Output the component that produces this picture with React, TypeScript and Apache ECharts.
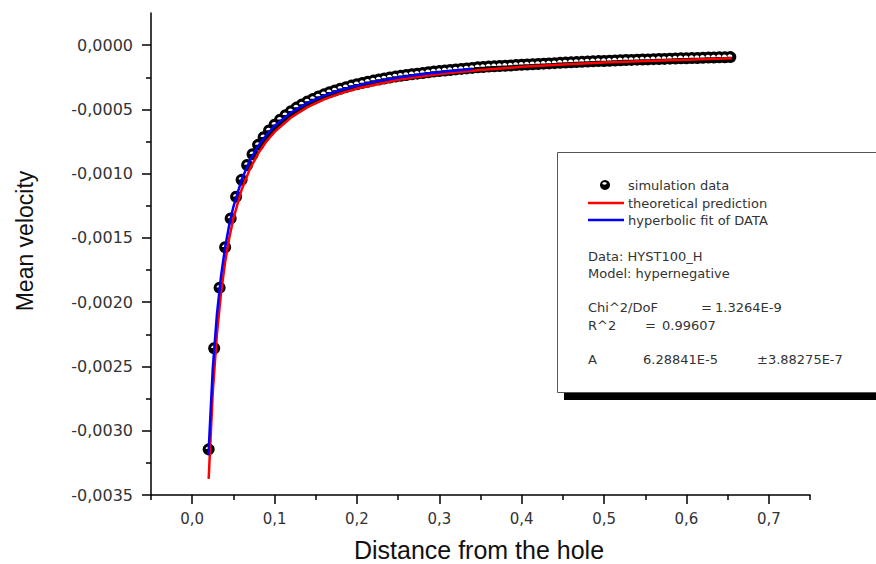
import React, { useEffect, useRef } from "react";
import * as echarts from "echarts";

// Simulation data (distance from the hole, mean velocity)
const simDistance = [
  0.02, 0.0267, 0.0333, 0.04, 0.0467, 0.0533, 0.06, 0.0667, 0.0733, 0.08,
  0.0867, 0.0933, 0.1, 0.1067, 0.1133, 0.12, 0.1267, 0.1333, 0.14, 0.1467,
  0.1533, 0.16, 0.1667, 0.1733, 0.18, 0.1867, 0.1933, 0.2, 0.2067, 0.2133,
  0.22, 0.2267, 0.2333, 0.24, 0.2467, 0.2533, 0.26, 0.2667, 0.2733, 0.28,
  0.2867, 0.2933, 0.3, 0.3067, 0.3133, 0.32, 0.3267, 0.3333, 0.34, 0.3467,
  0.3533, 0.36, 0.3667, 0.3733, 0.38, 0.3867, 0.3933, 0.4, 0.4067, 0.4133,
  0.42, 0.4267, 0.4333, 0.44, 0.4467, 0.4533, 0.46, 0.4667, 0.4733, 0.48,
  0.4867, 0.4933, 0.5, 0.5067, 0.5133, 0.52, 0.5267, 0.5333, 0.54, 0.5467,
  0.5533, 0.56, 0.5667, 0.5733, 0.58, 0.5867, 0.5933, 0.6, 0.6067, 0.6133,
  0.62, 0.6267, 0.6333, 0.64, 0.6467, 0.6533,
];
const simVelocity = [
  -0.003145, -0.002358, -0.001887, -0.001572, -0.001348, -0.001179, -0.001048, -0.000933, -0.000848, -0.000776,
  -0.000716, -0.000664, -0.000619, -0.00058, -0.000545, -0.000514, -0.000486, -0.000462, -0.000439, -0.000419,
  -0.0004, -0.000383, -0.000367, -0.000353, -0.000339, -0.000327, -0.000315, -0.000304, -0.000294, -0.000285,
  -0.000276, -0.000267, -0.00026, -0.000252, -0.000245, -0.000238, -0.000232, -0.000226, -0.000222, -0.000217,
  -0.000211, -0.000206, -0.000202, -0.000197, -0.000193, -0.000189, -0.000185, -0.000181, -0.000177, -0.000173,
  -0.00017, -0.000167, -0.000165, -0.000162, -0.00016, -0.000158, -0.000155, -0.000153, -0.000151, -0.000149,
  -0.000147, -0.000144, -0.000142, -0.00014, -0.000138, -0.000136, -0.000134, -0.000132, -0.00013, -0.000128,
  -0.000126, -0.000124, -0.000123, -0.000121, -0.00012, -0.000118, -0.000116, -0.000115, -0.000113, -0.000112,
  -0.000111, -0.000109, -0.000108, -0.000107, -0.000105, -0.000104, -0.000103, -0.000102, -0.000101, -0.0001,
  -0.000098, -0.000097, -0.000096, -0.000095, -0.000094, -0.000093,
];

// Hyperbolic fit of DATA
const fitDistance = [
  0.0197, 0.025, 0.03, 0.035, 0.04, 0.045, 0.05, 0.06, 0.07, 0.08, 0.09,
  0.1, 0.12, 0.14, 0.16, 0.18, 0.2, 0.22, 0.25, 0.28, 0.31, 0.34,
];
const fitVelocity = [
  -0.003192, -0.002515, -0.002096, -0.001797, -0.001572, -0.001397, -0.001258, -0.001048, -0.000898, -0.000786, -0.000699,
  -0.000629, -0.000524, -0.000449, -0.000393, -0.000349, -0.000314, -0.000286, -0.000252, -0.000225, -0.000203, -0.000185,
];

// Theoretical prediction
const theoryDistance = [
  0.02, 0.025, 0.03, 0.035, 0.04, 0.045, 0.05, 0.06, 0.07, 0.08, 0.09, 0.1, 0.12,
  0.14, 0.16, 0.18, 0.2, 0.25, 0.3, 0.35, 0.4, 0.45, 0.5, 0.55, 0.6, 0.655,
];
const theoryVelocity = [
  -0.003375, -0.0027, -0.00225, -0.001929, -0.001688, -0.0015, -0.00135, -0.001125, -0.000964, -0.000844, -0.00075, -0.000675, -0.000563,
  -0.000482, -0.000422, -0.000375, -0.000338, -0.00027, -0.000225, -0.000193, -0.000169, -0.00015, -0.000135, -0.000123, -0.000113, -0.000103,
];

const xMajorTicks = [0, 0.1, 0.2, 0.3, 0.4, 0.5, 0.6, 0.7];
const xMinorTicks = [-0.05, 0.05, 0.15, 0.25, 0.35, 0.45, 0.55, 0.65, 0.75];
const yMajorTicks = [-0.0035, -0.003, -0.0025, -0.002, -0.0015, -0.001, -0.0005, 0];
const yMinorTicks = [-0.00325, -0.00275, -0.00225, -0.00175, -0.00125, -0.00075, -0.00025];

const legendNames = ["simulation data", "theoretical prediction", "hyperbolic fit of DATA"];

const W = 876;
const H = 564;
const TXT = "#333333";
const LF = '"DejaVu Sans", sans-serif';

export default function App() {
  const ref = useRef<HTMLDivElement>(null);
  useEffect(() => {
    if (!ref.current) return;
    const chart = echarts.init(ref.current, undefined, { renderer: "svg" });
    const simData = simDistance.map((d, i) => [d, simVelocity[i]]);
    const fitData = fitDistance.map((d, i) => [d, fitVelocity[i]]);
    const theoryData = theoryDistance.map((d, i) => [d, theoryVelocity[i]]);
    const axisLine = { show: true, onZero: false, lineStyle: { color: "#000", width: 1.5 } };
    const halfDisc = "path://M0,10 A10,10 0 0 1 20,10 Z";

    const txt = (text: string, x: number, y: number) => ({
      type: "text",
      x,
      y,
      z: 102,
      style: { text, x: 0, y: 0, fill: TXT, fontSize: 13, fontFamily: LF, align: "left", verticalAlign: "middle" },
    });

    chart.setOption({
      animation: false,
      backgroundColor: "#fff",
      grid: { left: 151, right: 66, top: 13, bottom: 69 },
      xAxis: [
        {
          type: "value",
          position: "bottom",
          min: -0.05,
          max: 0.75,
          interval: 0.05,
          axisLine,
          splitLine: { show: false },
          axisTick: { show: true, customValues: xMajorTicks, length: 9, lineStyle: { color: "#000", width: 1.5 } },
          axisLabel: {
            show: true,
            customValues: xMajorTicks,
            margin: 16,
            color: TXT,
            fontSize: 15,
            fontFamily: LF,
            formatter: (v: number) => v.toFixed(1).replace(".", ","),
          },
        },
        {
          type: "value",
          position: "bottom",
          min: -0.05,
          max: 0.75,
          interval: 0.05,
          axisLine: { show: false, onZero: false },
          splitLine: { show: false },
          axisLabel: { show: false },
          axisTick: { show: true, customValues: xMinorTicks, length: 5, lineStyle: { color: "#000", width: 1.5 } },
        },
      ],
      yAxis: [
        {
          type: "value",
          position: "left",
          min: -0.0035,
          max: 0.00025,
          interval: 0.00025,
          axisLine,
          splitLine: { show: false },
          axisTick: { show: true, customValues: yMajorTicks, length: 9, lineStyle: { color: "#000", width: 1.5 } },
          axisLabel: {
            show: true,
            customValues: yMajorTicks,
            margin: 18,
            color: TXT,
            fontSize: 16,
            fontFamily: LF,
            formatter: (v: number) => v.toFixed(4).replace(".", ","),
          },
        },
        {
          type: "value",
          position: "left",
          min: -0.0035,
          max: 0.00025,
          interval: 0.00025,
          axisLine: { show: false, onZero: false },
          splitLine: { show: false },
          axisLabel: { show: false },
          axisTick: { show: true, customValues: yMinorTicks, length: 5, lineStyle: { color: "#000", width: 1.5 } },
        },
      ],
      series: [
        {
          name: legendNames[0],
          type: "scatter",
          data: simData,
          symbol: "circle",
          symbolSize: 12,
          itemStyle: { color: "#000", opacity: 1 },
          z: 2,
        },
        {
          name: legendNames[0] + " highlight",
          type: "scatter",
          data: simData,
          symbol: halfDisc,
          symbolSize: [5, 2.5],
          symbolOffset: [-0.5, -1.5],
          itemStyle: { color: "#fff", opacity: 1 },
          z: 3,
        },
        {
          name: legendNames[1],
          type: "line",
          data: theoryData,
          showSymbol: false,
          symbol: "none",
          lineStyle: { color: "#ff0000", width: 2.5 },
          z: 4,
        },
        {
          name: legendNames[2],
          type: "line",
          data: fitData,
          showSymbol: false,
          symbol: "none",
          lineStyle: { color: "#0000ff", width: 2.5 },
          z: 5,
        },
      ],
      graphic: [
        {
          type: "text",
          x: 25,
          y: 241,
          rotation: Math.PI / 2,
          style: {
            text: "Mean velocity",
            fill: "#111",
            fontSize: 23,
            fontFamily: '"Liberation Sans", Arial, sans-serif',
            align: "center",
            verticalAlign: "middle",
          },
        },
        {
          type: "text",
          x: 479,
          y: 550,
          style: {
            text: "Distance from the hole",
            fill: "#111",
            fontSize: 25,
            fontFamily: '"Liberation Sans", Arial, sans-serif',
            align: "center",
            verticalAlign: "middle",
          },
        },
        // legend box shadow + box
        { type: "rect", z: 100, shape: { x: 564, y: 159, width: 330, height: 241 }, style: { fill: "#000" } },
        { type: "rect", z: 101, shape: { x: 557.5, y: 152.5, width: 330, height: 240 }, style: { fill: "#fff", stroke: "#555", lineWidth: 1 } },
        // legend symbols
        { type: "circle", z: 102, shape: { cx: 605, cy: 185, r: 5 }, style: { fill: "#000" } },
        { type: "ellipse", z: 103, shape: { cx: 604.5, cy: 183.5, rx: 2.2, ry: 1.2 }, style: { fill: "#fff" } },
        { type: "line", z: 102, shape: { x1: 588, y1: 203, x2: 624, y2: 203 }, style: { stroke: "#ff0000", lineWidth: 2.5 } },
        { type: "line", z: 102, shape: { x1: 588, y1: 220, x2: 624, y2: 220 }, style: { stroke: "#0000ff", lineWidth: 2.5 } },
        txt(legendNames[0], 628, 185),
        txt(legendNames[1], 628, 203),
        txt(legendNames[2], 628, 220),
        txt("Data: HYST100_H", 588, 256),
        txt("Model: hypernegative", 588, 273),
        txt("Chi^2/DoF", 588, 307),
        txt("=", 701, 307),
        txt("1.3264E-9", 715, 307),
        txt("R^2", 588, 325),
        txt("=", 645, 325),
        txt("0.99607", 662, 325),
        txt("A", 588, 359),
        txt("6.28841E-5", 643, 359),
        txt("±3.88275E-7", 757, 359),
      ],
    });
    return () => chart.dispose();
  }, []);
  return (
    <div
      ref={ref}
      style={{ position: "absolute", left: 0, top: 0, width: W, height: H, background: "#fff" }}
    />
  );
}
